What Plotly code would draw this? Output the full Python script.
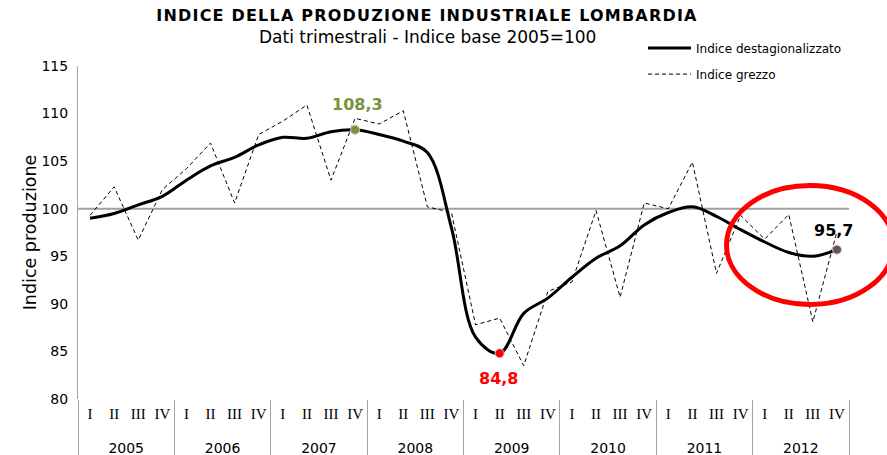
import plotly.graph_objects as go

anni = ["2005", "2006", "2007", "2008", "2009", "2010", "2011", "2012"]
trimestri = ["I", "II", "III", "IV"]

indice_destagionalizzato = [
    99.0, 99.5, 100.4, 101.3,
    103.0, 104.5, 105.4, 106.7,
    107.5, 107.4, 108.1, 108.3,
    107.8, 107.1, 105.9, 98.0,
    86.5, 84.8, 89.0, 90.6,
    92.8, 94.8, 96.1, 98.3,
    99.6, 100.2, 99.2, 97.8,
    96.5, 95.4, 95.0, 95.7,
]
indice_grezzo = [
    99.3, 102.3, 96.7, 102.0,
    104.2, 106.9, 100.6, 107.8,
    109.2, 110.9, 103.0, 109.5,
    108.9, 110.3, 100.2, 99.6,
    87.8, 88.5, 83.5, 91.3,
    92.3, 99.8, 90.7, 100.6,
    100.0, 104.9, 93.2, 99.3,
    96.8, 99.4, 88.1, 97.6,
]

# highlighted points: (index, marker colour, label colour, label offset y, x)
evidenziati = [
    (11, "#77933C", "#77933C", -25, 2),
    (17, "#FF0000", "#FF0000", 25, -1),
    (31, "#595959", "#000000", -19, -3),
]

SANS = "DejaVu Sans"
SERIF = "Liberation Serif"

# plot area in pixels (for converting decoration positions)
L, R, T, B = 78, 38, 66, 56
W, H = 887, 455
PW, PH = W - L - R, H - T - B


def px_x(px):
    return (px - L) / PW


def px_y(py):
    return (H - B - py) / PH


x_anno = [f'<br><span style="font-family:{SANS};font-size:14px">{a}</span>' for a in anni for _ in trimestri]
x_trim = [f'<span style="font-size:15px">{t}</span>' for _ in anni for t in trimestri]
x_multi = [x_anno, x_trim]

fig = go.Figure()

fig.add_trace(go.Scatter(
    x=x_multi, y=indice_destagionalizzato, mode="lines",
    name="Indice destagionalizzato",
    line=dict(color="#000000", width=3, shape="spline", smoothing=1.0),
    legendgroup="a",
))
fig.add_trace(go.Scatter(
    x=x_multi, y=indice_grezzo, mode="lines",
    name="Indice grezzo",
    line=dict(color="#000000", width=1, dash="4px,3px"),
    legendgroup="b",
))

annotazioni = []
for idx, mcol, tcol, dy, dx in evidenziati:
    fig.add_trace(go.Scatter(
        x=[[x_anno[idx]], [x_trim[idx]]], y=[indice_destagionalizzato[idx]],
        mode="markers", showlegend=False,
        marker=dict(color=mcol, size=9, line=dict(color="#E6B9B8", width=1)),
    ))
    annotazioni.append(dict(
        x=idx, y=indice_destagionalizzato[idx], xref="x", yref="y",
        text=f"<b>{indice_destagionalizzato[idx]:.1f}</b>".replace(".", ","),
        showarrow=False, yshift=-dy, xshift=dx,
        font=dict(family=SANS, size=16, color=tcol),
    ))

annotazioni.append(dict(
    x=px_x(427), y=px_y(37), xref="paper", yref="paper",
    xanchor="center", yanchor="middle", showarrow=False,
    text="Dati trimestrali - Indice base 2005=100",
    font=dict(family=SANS, size=17, color="#000000"),
))

fig.update_layout(
    width=W, height=H,
    margin=dict(l=L, r=R, t=T, b=B, autoexpand=False),
    paper_bgcolor="white", plot_bgcolor="white",
    title=dict(
        text='<b><span style="letter-spacing:1.2px">INDICE DELLA PRODUZIONE INDUSTRIALE LOMBARDIA</span></b>',
        font=dict(family=SANS, size=16, color="#000000"),
        x=427 / W, xanchor="center", y=1 - 15 / H, yanchor="middle", yref="container",
    ),
    showlegend=True,
    legend=dict(
        x=px_x(643), y=px_y(33.6), xanchor="left", yanchor="top",
        font=dict(family=SANS, size=12, color="#000000"),
        bgcolor="rgba(0,0,0,0)", itemwidth=43,
        traceorder="grouped", tracegroupgap=7,
    ),
    annotations=annotazioni,
    shapes=[
        dict(type="line", xref="paper", yref="y", x0=0, x1=1, y0=100, y1=100,
             line=dict(color="#A0A0A0", width=2), layer="below"),
        dict(type="circle", xref="paper", yref="paper",
             x0=px_x(726.5), x1=px_x(893.5), y0=px_y(304.5), y1=px_y(185.5),
             line=dict(color="#FF0000", width=5)),
    ],
)

fig.update_xaxes(
    type="multicategory", automargin=False, range=[-0.5, 31.5], autorange=False,
    showgrid=False, showline=False, zeroline=False, ticks="", tickangle=0,
    ticklabelstandoff=4,
    tickfont=dict(family=SERIF, size=15, color="#000000"),
    showdividers=True, dividercolor="#A6A6A6", dividerwidth=1,
)
fig.update_yaxes(
    range=[80, 115], dtick=5, tick0=80, automargin=False,
    showgrid=False, zeroline=False,
    showline=True, linecolor="#A6A6A6", linewidth=1,
    ticks="", ticklabelstandoff=6,
    tickfont=dict(family=SANS, size=14, color="#000000"),
    title=dict(text="Indice produzione", font=dict(family=SANS, size=17.5, color="#000000"), standoff=0),
)

fig.write_html("out.html", config={"displayModeBar": False},
               post_script="document.body.style.margin='0';")
